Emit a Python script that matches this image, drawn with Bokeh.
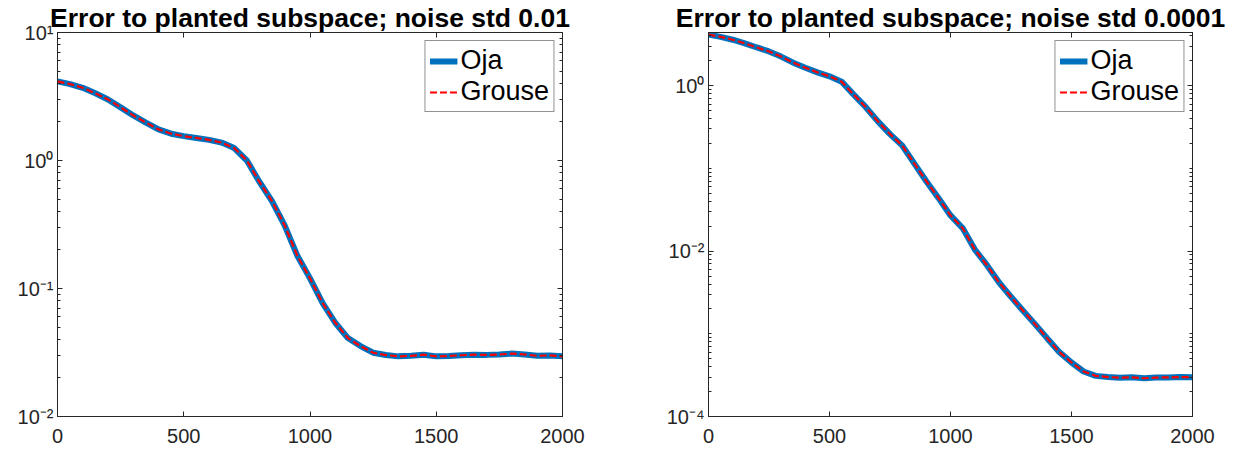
from bokeh.plotting import figure
from bokeh.models import (LinearAxis, LogAxis, FixedTicker, CustomJSTickFormatter,
                          Legend, LegendItem, Range1d)
from bokeh.layouts import row
from bokeh.embed import file_html
from bokeh.resources import INLINE

# ---------------- data ----------------
iters = [0, 50, 100, 150, 200, 250, 300, 350, 400, 450, 500, 550, 600, 650, 700,
         750, 800, 850, 900, 950, 1000, 1050, 1100, 1150, 1200, 1250, 1300, 1350,
         1400, 1450, 1500, 1550, 1600, 1650, 1700, 1750, 1800, 1850, 1900, 1950, 2000]

# noise std 0.01
oja_a = [4.15, 3.95, 3.7, 3.35, 3.0, 2.6, 2.25, 1.98, 1.75, 1.62, 1.55, 1.5, 1.45,
         1.38, 1.25, 1.0, 0.68, 0.48, 0.31, 0.18, 0.12, 0.077, 0.054, 0.041, 0.0355,
         0.0315, 0.0302, 0.0295, 0.0298, 0.0304, 0.0295, 0.0297, 0.0301, 0.0304,
         0.0303, 0.0305, 0.0310, 0.0305, 0.0298, 0.0300, 0.0295]
grouse_a = [4.15, 3.95, 3.7, 3.35, 3.0, 2.6, 2.25, 1.98, 1.75, 1.62, 1.55, 1.5, 1.45,
            1.38, 1.25, 1.0, 0.68, 0.48, 0.31, 0.18, 0.12, 0.077, 0.054, 0.041, 0.0355,
            0.0315, 0.0302, 0.0295, 0.0298, 0.0304, 0.0295, 0.0297, 0.0301, 0.0304,
            0.0303, 0.0305, 0.0310, 0.0305, 0.0298, 0.0300, 0.0295]

# noise std 0.0001
oja_b = [4.15, 3.9, 3.6, 3.25, 2.9, 2.6, 2.25, 1.9, 1.65, 1.45, 1.3, 1.12, 0.78,
         0.55, 0.37, 0.26, 0.19, 0.115, 0.07, 0.044, 0.027, 0.019, 0.0105, 0.0068,
         0.0042, 0.0028, 0.0019, 0.0013, 0.00088, 0.0006, 0.00045, 0.00035, 0.00031,
         0.0003, 0.000295, 0.000298, 0.00029, 0.000296, 0.000297, 0.0003, 0.000298]
grouse_b = [4.15, 3.9, 3.6, 3.25, 2.9, 2.6, 2.25, 1.9, 1.65, 1.45, 1.3, 1.12, 0.78,
            0.55, 0.37, 0.26, 0.19, 0.115, 0.07, 0.044, 0.027, 0.019, 0.0105, 0.0068,
            0.0042, 0.0028, 0.0019, 0.0013, 0.00088, 0.0006, 0.00045, 0.00035, 0.00031,
            0.0003, 0.000295, 0.000298, 0.00029, 0.000296, 0.000297, 0.0003, 0.000298]

titles = ["Error to planted subspace; noise std 0.01",
          "Error to planted subspace; noise std 0.0001"]
x_ticks = [0, 500, 1000, 1500, 2000]
series_names = ["Oja", "Grouse"]

# ---------------- styling ----------------
AX = "#262626"
FONT = "Liberation Sans"
sup_js = """
const m = {"-":"\u207b","0":"\u2070","1":"\u00b9","2":"\u00b2","3":"\u00b3","4":"\u2074",
           "5":"\u2075","6":"\u2076","7":"\u2077","8":"\u2078","9":"\u2079"};
const e = Math.round(Math.log10(tick));
return "10" + String(e).split("").map(c => m[c]).join("");
"""


def style_axis(ax, labels=True):
    ax.axis_line_color = AX
    ax.axis_line_width = 1
    ax.major_tick_line_color = AX
    ax.minor_tick_line_color = AX
    ax.major_tick_in = 5
    ax.major_tick_out = 0
    ax.minor_tick_in = 3
    ax.minor_tick_out = 0
    ax.major_label_text_font = FONT
    ax.major_label_text_color = AX
    ax.major_label_text_font_size = "20px"
    if not labels:
        ax.formatter = CustomJSTickFormatter(code="return '';")
        ax.major_label_text_font_size = "1px"
        ax.major_label_standoff = 0


def make(title, oja, grouse, ylo, yhi, ymajor, yminor, width, bl, br):
    p = figure(width=width, height=454, x_range=Range1d(0, 2000),
               y_range=Range1d(ylo, yhi), y_axis_type="log",
               output_backend="svg", toolbar_location=None,
               min_border_left=bl, min_border_right=br,
               min_border_top=31, min_border_bottom=38)
    p.title.text = title
    p.title.text_font = FONT
    p.title.text_font_style = "bold"
    p.title.text_font_size = "26.5px"
    p.title.text_color = "#000000"
    p.title.align = "center"
    p.title.standoff = 0
    p.grid.visible = False
    p.outline_line_color = AX
    p.background_fill_color = "white"
    p.border_fill_color = "white"

    xt = FixedTicker(ticks=x_ticks, minor_ticks=[])
    yt = FixedTicker(ticks=ymajor, minor_ticks=yminor)
    fmt = CustomJSTickFormatter(code=sup_js)

    p.xaxis[0].ticker = xt
    style_axis(p.xaxis[0])
    p.xaxis[0].major_label_standoff = 12
    p.yaxis[0].ticker = yt
    p.yaxis[0].formatter = fmt
    style_axis(p.yaxis[0])
    p.yaxis[0].major_label_standoff = 4

    top = LinearAxis(ticker=FixedTicker(ticks=x_ticks, minor_ticks=[]))
    style_axis(top, labels=False)
    p.add_layout(top, "above")
    right = LogAxis(ticker=FixedTicker(ticks=ymajor, minor_ticks=yminor))
    style_axis(right, labels=False)
    p.add_layout(right, "right")

    r1 = p.line(iters, oja, line_color="#0072BD", line_width=6)
    r2 = p.line(iters, grouse, line_color="#FF0000", line_width=2.2, line_dash="7 3")

    leg = Legend(items=[LegendItem(label=series_names[0], renderers=[r1]),
                        LegendItem(label=series_names[1], renderers=[r2])],
                 location="top_right")
    leg.label_text_font = FONT
    leg.label_text_font_size = "27px"
    leg.label_text_color = "#000000"
    leg.glyph_width = 28
    leg.glyph_height = 24
    leg.label_standoff = 3
    leg.spacing = 0
    leg.padding = 4
    leg.margin = 8
    leg.border_line_color = AX
    leg.border_line_width = 1
    leg.background_fill_alpha = 1
    p.add_layout(leg)
    return p


minor_a = [k * 10.0 ** e for e in (-2, -1, 0) for k in range(2, 10)]
minor_b = [k * 10.0 ** e for e in (-4, -3, -2, -1, 0) for k in range(1, 10) if not (k == 1 and e % 2 == 0)]

p1 = make(titles[0], oja_a, grouse_a, 1e-2, 1e1, [1e-2, 1e-1, 1e0, 1e1], minor_a, 630, 57, 68)
p2 = make(titles[1], oja_b, grouse_b, 1e-4, 4.4, [1e-4, 1e-2, 1e0], minor_b, 620, 78, 58)

layout = row(p1, p2)
open("out.html", "w").write(file_html(layout, INLINE))
